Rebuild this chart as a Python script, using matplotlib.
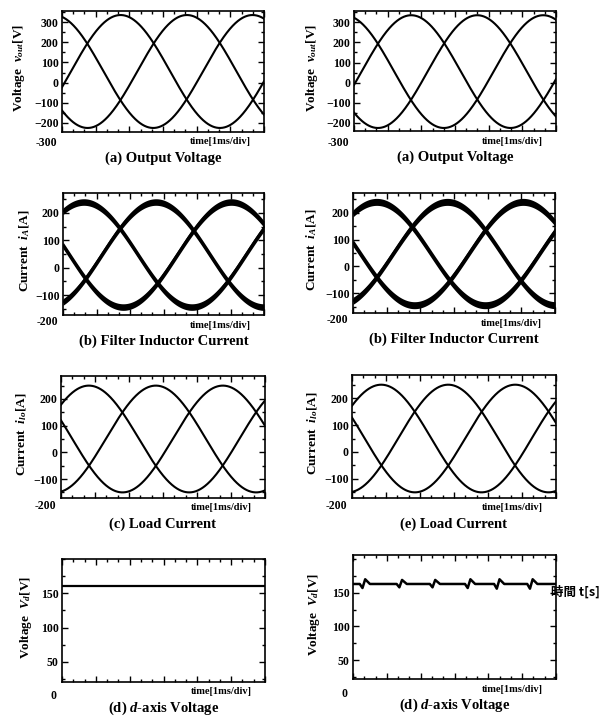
import numpy as np
import matplotlib
matplotlib.use('Agg')
import matplotlib.pyplot as plt
from matplotlib.ticker import FixedLocator, MultipleLocator, NullFormatter

plt.rcParams['font.family'] = ['Liberation Serif', 'Noto Sans CJK JP']
plt.rcParams['font.weight'] = 'bold'
plt.rcParams['mathtext.fontset'] = 'custom'
plt.rcParams['mathtext.rm'] = 'Liberation Serif:bold'
plt.rcParams['mathtext.it'] = 'Liberation Serif:italic:bold'
plt.rcParams['mathtext.bf'] = 'Liberation Serif:bold'

# ---------------- data ----------------
time_span_ms = 6.0                       # 6 divisions of 1 ms

# (a) output voltage: offset, amplitude, period [ms], peak times of the 3 phases [ms]
volt_offset = [55, 55]
volt_amp = [280, 280]
volt_period = [5.9, 5.9]
volt_peaks_left = [-0.24, 1.74, 3.71]
volt_peaks_right = [-0.28, 1.70, 3.66]
volt_ticks = [300, 200, 100, 0, -100, -200]

# (b) filter inductor current
ind_offset = [48, 48]
ind_amp = [192, 192]
ind_period = [6.45, 6.45]
ind_peaks_left = [0.62, 2.77, 5.02]
ind_peaks_right = [0.70, 2.80, 5.05]
ind_ripple = [12, 13]
cur_ticks = [200, 100, 0, -100]

# (c) load current
load_offset = [50, 50]
load_amp = [200, 200]
load_period = [5.9, 5.9]
load_peaks_left = [0.82, 2.79, 4.76]
load_peaks_right = [0.86, 2.83, 4.80]

# (d) d-axis voltage
vd_level = [161, 163]
vd_bump_times = [0.36, 1.45, 2.43, 3.47, 4.33, 5.31]   # right panel disturbances
vd_bump_dip = [-6, -5, -5, -6, -7, -7]
vd_bump_peak = [7, 6, 6, 7, 7, 7]
vd_ticks = [150, 100, 50]

captions = ['(a) Output Voltage', '(b) Filter Inductor Current',
            '(c) Load Current', r'(d) $\mathit{d}$-axis Voltage']
captions_right = ['(a) Output Voltage', '(b) Filter Inductor Current',
                  '(e) Load Current', r'(d) $\mathit{d}$-axis Voltage']
ylabels = [r'Voltage  $v_{out}$[V]', r'Current  $i_{A}$[A]',
           r'Current  $i_{lo}$[A]', r'Voltage  $V_{d}$[V]']
time_label = 'time[1ms/div]'

# ---------------- layout ----------------
W, H = 613, 718
fig = plt.figure(figsize=(W / 100, H / 100), dpi=100)


def rect(l, t, r, b):
    return [l / W, 1 - b / H, (r - l) / W, (b - t) / H]


boxes_left = [(62, 11, 264, 132), (63, 193, 264, 315), (61, 376, 265, 498), (62, 559, 265, 682)]
boxes_right = [(354, 11, 556, 131), (353, 193, 555, 313), (352, 375, 556, 498), (353, 555, 556, 679)]
ylims_left = [(-245, 355), (-173, 273), (-171, 286), (20.6, 200)]
ylims_right = [(-240, 356), (-173, 273), (-171, 286), (22, 206)]
below_label = [-300, -200, -200, 0]
ylabel_x_left = [19, 25, 22, 26]
ylabel_x_right = [312, 312, 313, 314]

t = np.linspace(0, time_span_ms, 1200)


def phases(offset, amp, period, peaks):
    return [offset + amp * np.cos(2 * np.pi * (t - p) / period) for p in peaks]


def style(ax, row, ylim):
    ax.set_xlim(0, time_span_ms)
    ax.set_ylim(*ylim)
    ax.xaxis.set_major_locator(MultipleLocator(1))
    ax.xaxis.set_minor_locator(MultipleLocator(1 / 3))
    ax.xaxis.set_major_formatter(NullFormatter())
    if row == 0:
        ax.yaxis.set_major_locator(FixedLocator(volt_ticks))
        ax.yaxis.set_minor_locator(MultipleLocator(50))
    elif row in (1, 2):
        ax.yaxis.set_major_locator(FixedLocator(cur_ticks))
        ax.yaxis.set_minor_locator(MultipleLocator(50))
    else:
        ax.yaxis.set_major_locator(FixedLocator(vd_ticks))
        ax.yaxis.set_minor_locator(MultipleLocator(25))
    ax.tick_params(which='both', direction='in', top=True, right=True, width=1.0)
    ax.tick_params(which='major', length=4.5, labelsize=8.5, pad=2.5)
    ax.tick_params(which='minor', length=2.5)
    for lab in ax.get_yticklabels():
        lab.set_fontweight('bold')
    for s in ax.spines.values():
        s.set_linewidth(1.2)
    ax.text(-0.025, below_label[row], str(below_label[row]), transform=ax.get_yaxis_transform(),
            ha='right', va='center', fontsize=8.5, fontweight='bold', clip_on=False)


for col in range(2):
    boxes = boxes_left if col == 0 else boxes_right
    ylims = ylims_left if col == 0 else ylims_right
    caps = captions if col == 0 else captions_right
    ylx = ylabel_x_left if col == 0 else ylabel_x_right
    for row in range(4):
        l, tp, r, b = boxes[row]
        ax = fig.add_axes(rect(l, tp, r, b))
        if row == 0:
            pk = volt_peaks_left if col == 0 else volt_peaks_right
            for y in phases(volt_offset[col], volt_amp[col], volt_period[col], pk):
                ax.plot(t, y, color='black', lw=1.5)
        elif row == 1:
            pk = ind_peaks_left if col == 0 else ind_peaks_right
            for y in phases(ind_offset[col], ind_amp[col], ind_period[col], pk):
                ax.fill_between(t, y - ind_ripple[col], y + ind_ripple[col], color='black', lw=0)
                ax.plot(t, y, color='black', lw=1.5)
        elif row == 2:
            pk = load_peaks_left if col == 0 else load_peaks_right
            for y in phases(load_offset[col], load_amp[col], load_period[col], pk):
                ax.plot(t, y, color='black', lw=1.5)
        else:
            if col == 0:
                ax.plot([0, time_span_ms], [vd_level[0], vd_level[0]], color='black', lw=1.6)
            else:
                xs, ys = [0.0], [vd_level[1]]
                for bt, dp, pkv in zip(vd_bump_times, vd_bump_dip, vd_bump_peak):
                    xs += [bt - 0.16, bt - 0.08, bt, bt + 0.14]
                    ys += [vd_level[1], vd_level[1] + dp, vd_level[1] + pkv, vd_level[1]]
                xs.append(time_span_ms)
                ys.append(vd_level[1])
                ax.plot(xs, ys, color='black', lw=1.8)
        style(ax, row, ylims[row])
        cx = (l + r) / 2
        fig.text(cx / W, 1 - (b + 26) / H, caps[row], ha='center', va='center',
                 fontsize=10.5, fontweight='bold')
        fig.text((r - 13) / W, 1 - (b + 10) / H, time_label, ha='right', va='center',
                 fontsize=7.5, fontweight='bold')
        fig.text(ylx[row] / W, 1 - ((tp + b) / 2 - 3) / H, ylabels[row], rotation=90,
                 ha='center', va='center', fontsize=9.5, fontweight='bold')

fig.text(551 / W, 1 - 592 / H, '時間 t[s]', ha='left', va='center', fontsize=9,
         fontweight='bold', family=['Noto Sans CJK JP', 'Liberation Serif'])

fig.savefig('out.png', dpi=100)
